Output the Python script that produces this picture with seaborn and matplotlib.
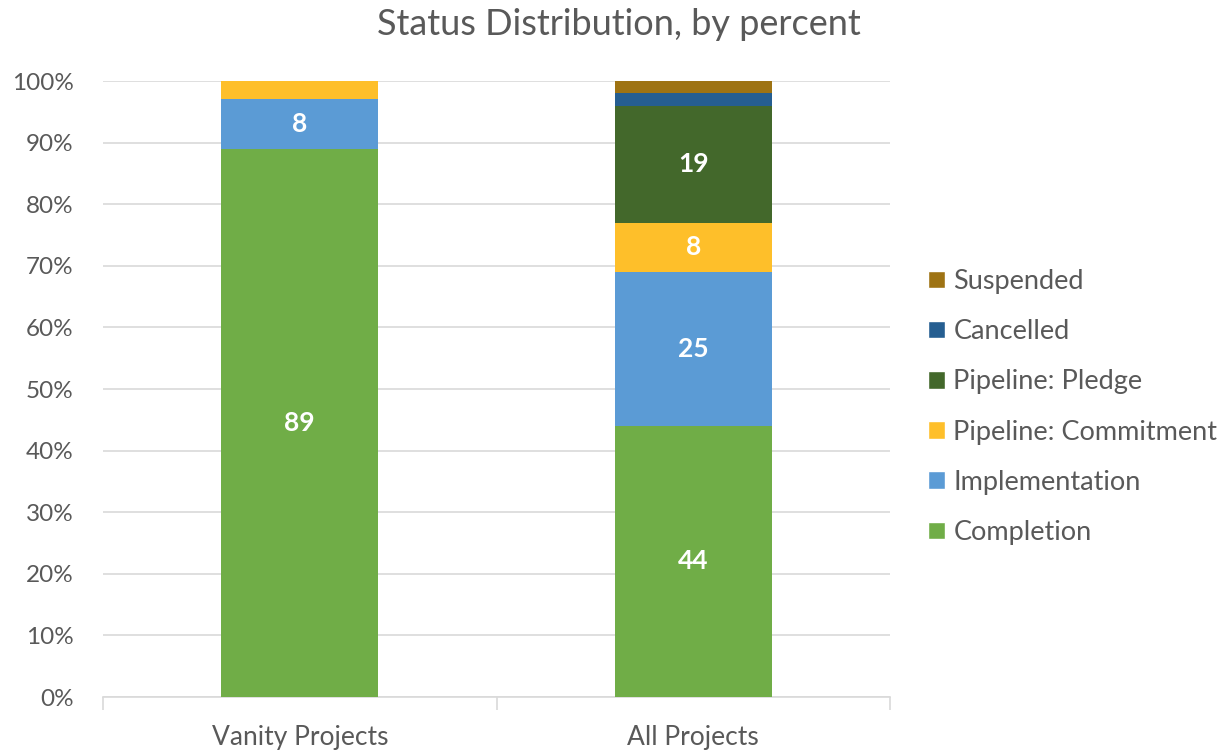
import numpy as np
import pandas as pd
import matplotlib
matplotlib.use("Agg")
import matplotlib.pyplot as plt
import seaborn as sns
from matplotlib.patches import Patch
from matplotlib.ticker import FixedLocator

categories = ["Vanity Projects", "All Projects"]
statuses = ["Completion", "Implementation", "Pipeline: Commitment",
            "Pipeline: Pledge", "Cancelled", "Suspended"]
completion = [89, 44]
implementation = [8, 25]
commitment = [3, 8]
pledge = [0, 19]
cancelled = [0, 2]
suspended = [0, 2]
colors = ["#70AD47", "#5B9BD5", "#FEBF2A", "#43682B", "#255E91", "#9E7313"]
yticks = [0, 10, 20, 30, 40, 50, 60, 70, 80, 90, 100]

series = [completion, implementation, commitment, pledge, cancelled, suspended]

sns.set_theme(style="white")
plt.rcParams["font.family"] = ["Lato", "DejaVu Sans"]
txt = "#595959"

fig = plt.figure(figsize=(12.30, 7.51), dpi=100)
ax = fig.add_axes([103/1230, 1-697/751, (890-103)/1230, (697-81)/751])

cum = np.cumsum(np.array(series), axis=0)
# draw from top layer down so lower layers overlay
for i in range(len(series) - 1, -1, -1):
    df = pd.DataFrame({"cat": categories, "val": cum[i]})
    sns.barplot(data=df, x="cat", y="val", color=colors[i], width=0.4,
                saturation=1, ax=ax, linewidth=0, zorder=3)

# labels
for j, cat in enumerate(categories):
    base = 0
    for i, s in enumerate(series):
        v = s[j]
        if v >= 5:
            ax.text(j, base + v / 2, f"{v}", ha="center", va="center",
                    color="white", fontsize=19, fontweight="bold", zorder=5)
        base += v

ax.set_ylim(0, 100)
ax.set_xlim(-0.5, 1.5)
ax.set_yticks(yticks)
ax.set_yticklabels([f"{t}%" for t in yticks], color=txt, fontsize=17.5)
ax.yaxis.grid(True, color="#D9D9D9", linewidth=1.2, zorder=0)
ax.set_axisbelow(True)
ax.set_xlabel("")
ax.set_ylabel("")
ax.tick_params(axis="y", length=0, pad=21)
ax.tick_params(axis="x", which="major", length=0, pad=20, labelsize=19, labelcolor=txt)
ax.xaxis.set_minor_locator(FixedLocator([-0.5, 0.5, 1.5]))
ax.tick_params(axis="x", which="minor", length=9, color="#D9D9D9", width=1.2, bottom=True)
for sp in ["top", "right", "left"]:
    ax.spines[sp].set_visible(False)
ax.spines["bottom"].set_color("#D9D9D9")
ax.spines["bottom"].set_linewidth(1.2)

ax.set_title("Status Distribution, by percent", color=txt, fontsize=26, pad=33,
             x=(619 - 103) / 787)

handles = [Patch(facecolor=colors[i], label=statuses[i]) for i in range(len(statuses) - 1, -1, -1)]
fig.legend(handles=handles, loc="center left", bbox_to_anchor=(904/1230, 1-407/751),
           frameon=False, fontsize=19.5, labelcolor=txt, handlelength=0.62,
           handleheight=0.62, handletextpad=0.3, labelspacing=0.93)

fig.savefig("out.png", dpi=100)
